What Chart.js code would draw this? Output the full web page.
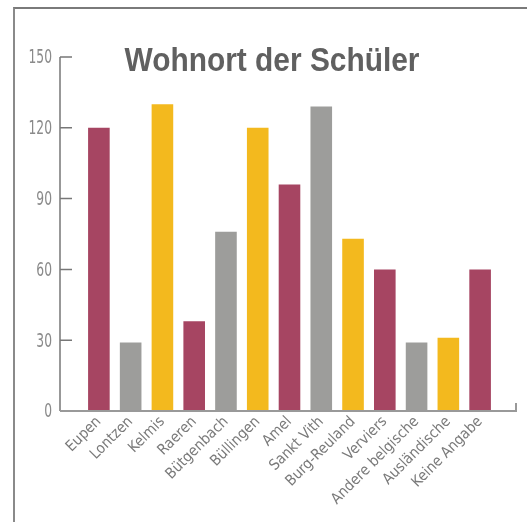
<!DOCTYPE html>
<html>
<head>
<meta charset="utf-8">
<script src="https://cdn.jsdelivr.net/npm/chart.js@4/dist/chart.umd.min.js"></script>
<style>
  html, body { margin: 0; padding: 0; background: #fff; }
  #wrap { position: relative; width: 527px; height: 522px; overflow: hidden; }
  #frame { position: absolute; left: 13px; top: 7px; right: -5px; bottom: -5px;
           border-top: 2px solid #7a7a7a; border-left: 2px solid #8a8a8a; }
  canvas { position: absolute; left: 0; top: 0; }
</style>
</head>
<body>
<div id="wrap">
  <div id="frame"></div>
  <canvas id="chart" width="527" height="522"></canvas>
</div>
<script>
const title = 'Wohnort der Schüler';
const places = ['Eupen', 'Lontzen', 'Kelmis', 'Raeren', 'Bütgenbach', 'Büllingen', 'Amel',
    'Sankt Vith', 'Burg-Reuland', 'Verviers', 'Andere belgische', 'Ausländische', 'Keine Angabe'];
const pupils = [120, 29, 130, 38, 76, 120, 96, 129, 73, 60, 29, 31, 60];
const yTicks = [0, 30, 60, 90, 120, 150];

const palette = ['#a64562', '#9d9d9b', '#f3b91e'];
const narrow = '"DejaVu Sans Condensed", "Liberation Sans Narrow", Roboto, sans-serif';

// axes are drawn by hand: inner ticks, y line detached from the first bar,
// y labels and title squeezed to look like the condensed original face
const axisLines = {
    id: 'axisLines',
    afterDraw(chart) {
        const { ctx, chartArea, scales } = chart;
        const y = scales.y;
        const x0 = chartArea.left - 23;
        const x1 = chartArea.right + 20;
        const base = y.getPixelForValue(0);

        ctx.save();
        ctx.strokeStyle = '#777';
        ctx.lineWidth = 1.5;
        ctx.beginPath();
        ctx.moveTo(x0, y.getPixelForValue(150));
        ctx.lineTo(x0, base);
        yTicks.forEach(v => {
            const py = y.getPixelForValue(v);
            ctx.moveTo(x0, py);
            ctx.lineTo(x0 + 12, py);
        });
        ctx.stroke();

        ctx.strokeStyle = '#999';
        ctx.lineWidth = 2;
        ctx.beginPath();
        ctx.moveTo(x0, base);
        ctx.lineTo(x1, base);
        ctx.lineTo(x1, base - 8);
        ctx.stroke();

        ctx.fillStyle = '#8a8a8a';
        ctx.font = '19px ' + narrow;
        ctx.textAlign = 'right';
        ctx.textBaseline = 'middle';
        yTicks.forEach(v => {
            ctx.save();
            ctx.translate(x0 - 8, y.getPixelForValue(v) + 1.5);
            ctx.scale(0.72, 1);
            ctx.fillText(String(v), 0, 0);
            ctx.restore();
        });

        ctx.fillStyle = '#606060';
        ctx.font = 'bold 33px "Liberation Sans", Arial, sans-serif';
        ctx.textAlign = 'center';
        ctx.textBaseline = 'alphabetic';
        const w = ctx.measureText(title).width;
        ctx.translate(272, 71);
        ctx.scale(295 / w, 1);
        ctx.fillText(title, 0, 0);
        ctx.restore();
    }
};

new Chart(document.getElementById('chart'), {
    type: 'bar',
    data: {
        labels: places,
        datasets: [{
            data: pupils,
            backgroundColor: places.map((_, i) => palette[i % 3]),
            barPercentage: 0.68,
            categoryPercentage: 1
        }]
    },
    options: {
        responsive: false,
        animation: false,
        layout: { padding: { top: 57, right: 31, left: 0, bottom: 0 } },
        plugins: {
            legend: { display: false },
            title: { display: false },
            tooltip: { enabled: false }
        },
        scales: {
            x: {
                grid: { display: false, drawTicks: false },
                border: { display: false },
                afterFit: s => { s.height = 111; },
                ticks: {
                    minRotation: 45,
                    maxRotation: 45,
                    autoSkip: false,
                    padding: 2,
                    color: '#7a7a7a',
                    font: { family: narrow, size: 15 }
                }
            },
            y: {
                min: 0,
                max: 150,
                afterFit: s => { s.width = 83; },
                afterBuildTicks: s => { s.ticks = yTicks.map(v => ({ value: v })); },
                grid: { display: false, drawTicks: false },
                border: { display: false },
                ticks: { display: false }
            }
        }
    },
    plugins: [axisLines]
});
</script>
</body>
</html>
